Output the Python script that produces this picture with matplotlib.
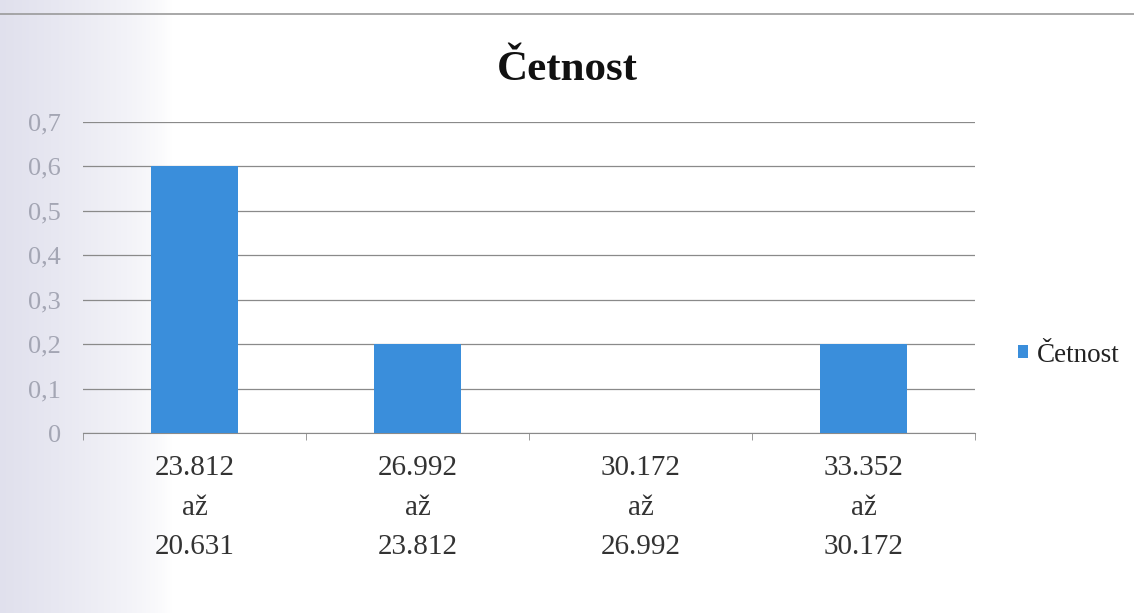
import matplotlib.pyplot as plt
import numpy as np
from matplotlib.lines import Line2D

# data
od = ["23.812", "26.992", "30.172", "33.352"]
do = ["20.631", "23.812", "26.992", "30.172"]
cetnost = [0.6, 0.2, 0.0, 0.2]
yticks = [0, 0.1, 0.2, 0.3, 0.4, 0.5, 0.6, 0.7]
ylabels = ["0", "0,1", "0,2", "0,3", "0,4", "0,5", "0,6", "0,7"]

plt.rcParams['font.family'] = ['Liberation Serif', 'DejaVu Serif']
modra = '#3a8edb'

fig = plt.figure(figsize=(11.34, 6.13), dpi=100)

# sedy prechod vlevo (sken)
bg = fig.add_axes([0, 0, 1, 1], zorder=-10)
x = np.linspace(0, 1, 400)
shade = np.clip(1 - x / 0.15, 0, 1) ** 0.7
img = np.ones((2, 400, 3))
img[:, :, 0] -= 0.12 * shade
img[:, :, 1] -= 0.12 * shade
img[:, :, 2] -= 0.07 * shade
bg.imshow(img, aspect='auto', extent=[0, 1, 0, 1])
bg.axis('off')
fig.add_artist(Line2D([0, 1], [1 - 14 / 613, 1 - 14 / 613], color='#9a9a9a', lw=1.2))

ax = fig.add_axes([83 / 1134, 1 - 433 / 613, (975 - 83) / 1134, (433 - 122) / 613])
ax.patch.set_alpha(0)
pos = np.arange(len(cetnost))
ax.bar(pos, cetnost, width=0.39, color=modra, label='Četnost', zorder=3)

ax.set_xlim(-0.5, len(cetnost) - 0.5)
ax.set_ylim(0, 0.7)
ax.set_yticks(yticks)
ax.set_yticklabels(ylabels, color='#a4a6b4', fontsize=19)
ax.yaxis.grid(True, color='#8a8a8a', lw=0.9, zorder=0)
ax.tick_params(axis='y', length=0, pad=16)

ax.set_xticks(pos)
ax.set_xticklabels([a + "\naž\n" + b for a, b in zip(od, do)],
                   fontsize=21, color='#333333', linespacing=1.68)
ax.set_xticks(np.arange(len(cetnost) + 1) - 0.5, minor=True)
ax.tick_params(axis='x', which='major', length=0, pad=16)
ax.tick_params(axis='x', which='minor', length=5, color='#8a8a8a', direction='out')

for s in ['top', 'right', 'left']:
    ax.spines[s].set_visible(False)
ax.spines['bottom'].set_color('#8a8a8a')

fig.text(0.5, 1 - 70 / 613, 'Četnost', ha='center', va='center',
         fontsize=31, fontweight='bold', color='#111111')

fig.legend(loc='center left', bbox_to_anchor=(1018 / 1134, 1 - 355 / 613),
           frameon=False, fontsize=19.5, handlelength=0.37, handleheight=0.37,
           handletextpad=0.33, borderpad=0, borderaxespad=0,
           labelcolor='#222222')

fig.savefig('out.png', dpi=100)
